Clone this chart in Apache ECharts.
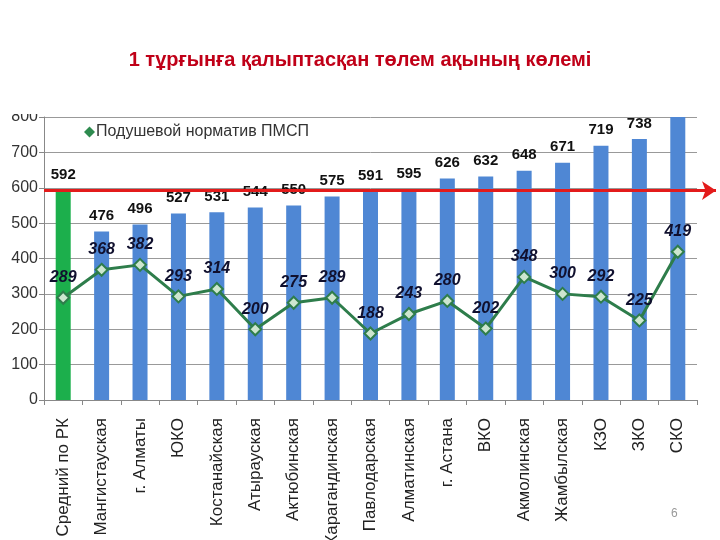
<!DOCTYPE html>
<html>
<head>
<meta charset="utf-8">
<script src="https://cdn.jsdelivr.net/npm/echarts@6/dist/echarts.min.js"></script>
<style>html,body{margin:0;padding:0;background:#fff;}#c{width:720px;height:540px;}</style>
</head>
<body>
<div id="c"></div>
<script>
const categories = ['Средний по РК','Мангистауская','г. Алматы','ЮКО','Костанайская','Атырауская','Актюбинская','Карагандинская','Павлодарская','Алматинская','г. Астана','ВКО','Акмолинская','Жамбылская','КЗО','ЗКО','СКО'];
const paymentValues = [592,476,496,527,531,544,550,575,591,595,626,632,648,671,719,738,800];
const normValues = [289,368,382,293,314,200,275,289,188,243,280,202,348,300,292,225,419];
const averageLevel = 592;
const yTicks = {min: 0, max: 800, interval: 100};

const FONT = '"Liberation Sans", Arial, sans-serif';
const chart = echarts.init(document.getElementById('c'), null, {renderer: 'canvas'});

const barData = paymentValues.map((v, i) => {
  const item = {value: v};
  if (i === 0) item.itemStyle = {color: '#1CAF4C'};
  if (i === paymentValues.length - 1) item.label = {show: false};
  return item;
});

chart.setOption({
  backgroundColor: '#fff',
  animation: false,
  title: {
    text: '1 тұрғынға қалыптасқан төлем ақының көлемі',
    left: 'center',
    top: 45,
    textStyle: {color: '#C00018', fontSize: 20, fontWeight: 'bold', fontFamily: FONT}
  },
  legend: {
    data: [{name: 'Подушевой норматив ПМСП', icon: 'diamond', itemStyle: {color: '#2E8B4F', borderWidth: 0}}],
    left: 79,
    top: 119,
    itemWidth: 11,
    itemHeight: 11,
    itemGap: 4,
    textStyle: {fontSize: 16, color: '#333', fontFamily: FONT, padding: [0, 0, 0, -4]}
  },
  grid: {left: 44, right: 23, top: 117, bottom: 140, containLabel: false, outerBoundsMode: 'none'},
  xAxis: {
    type: 'category',
    data: categories,
    axisLine: {lineStyle: {color: '#888', width: 1}},
    axisTick: {show: true, alignWithLabel: false, length: 5, lineStyle: {color: '#888'}},
    axisLabel: {interval: 0, rotate: 90, fontSize: 17, color: '#222', margin: 18, fontFamily: FONT}
  },
  yAxis: {
    type: 'value',
    min: yTicks.min, max: yTicks.max, interval: yTicks.interval,
    axisLine: {show: true, lineStyle: {color: '#888'}},
    axisTick: {show: true, length: 5, lineStyle: {color: '#888'}},
    axisLabel: {fontSize: 16, color: '#333', margin: 6, fontFamily: FONT},
    splitLine: {lineStyle: {color: '#999', width: 1}}
  },
  series: [
    {
      name: 'Плата',
      type: 'bar',
      data: barData,
      barWidth: 15,
      clip: false,
      itemStyle: {color: '#4F87D4'},
      label: {show: true, position: 'top', distance: 8, fontSize: 15, fontWeight: 'bold', color: '#111', fontFamily: FONT},
      markLine: {
        silent: true,
        symbol: ['none', 'arrow'],
        symbolSize: 14,
        lineStyle: {color: '#E31B1B', width: 3, type: 'solid'},
        itemStyle: {color: '#E31B1B'},
        label: {show: false},
        emphasis: {disabled: true},
        data: [[{yAxis: averageLevel, x: 44}, {yAxis: averageLevel, x: 716}]]
      },
      z: 2
    },
    {
      name: 'Подушевой норматив ПМСП',
      type: 'line',
      data: normValues,
      symbol: 'diamond',
      symbolSize: 12,
      lineStyle: {color: '#2E7D4B', width: 3},
      itemStyle: {color: '#CDE6CF', borderColor: '#2E7D4B', borderWidth: 2},
      label: {show: true, position: 'top', distance: 5, fontSize: 16, fontWeight: 'bold', fontStyle: 'italic', color: '#10102E', fontFamily: FONT},
      z: 4
    }
  ],
  graphic: [
    {type: 'rect', shape: {x: 0, y: 95, width: 43, height: 19}, style: {fill: '#fff'}, z: 100},
    {type: 'text', left: 671, top: 508, style: {text: '6', fill: '#999', fontSize: 12, fontFamily: FONT}, z: 100}
  ]
});
</script>
</body>
</html>
